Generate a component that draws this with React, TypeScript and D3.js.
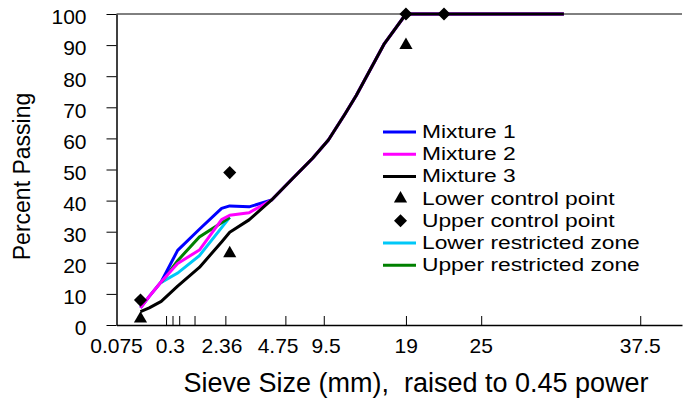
import React, { useEffect, useRef } from 'react';
import * as d3 from 'd3';

const width = 687;
const height = 400;
const margin = { top: 14, right: 5, bottom: 75, left: 116.5 };
const font = '"Liberation Sans", Arial, sans-serif';

// sieve openings (mm) used for the three mixture curves
const sieveSizes = [0.075, 0.15, 0.3, 0.6, 1.18, 2, 2.36, 3.35, 4.75, 6.3, 8, 9.5, 11.2, 12.5, 16, 19, 25, 37.5, 50];
const mixture1 = [5.5, 9.2, 13.9, 24, 30.8, 37.5, 38.3, 38, 40.2, 47.1, 53.6, 59.5, 67.7, 73.8, 90.5, 100, 100, 100, 100];
const mixture2 = [5.5, 9.2, 13.9, 19.8, 24.1, 33.9, 35.3, 36.1, 40.2, 47.1, 53.6, 59.5, 67.7, 73.8, 90.5, 100, 100, 100, 100];
const mixture3 = [4.3, 5.5, 7.6, 12.5, 18.5, 26.7, 29.8, 33.8, 40.2, 47.1, 53.6, 59.5, 67.7, 73.8, 90.5, 100, 100, 100, 100];

// restricted zone
const zoneSieves = [0.3, 0.6, 1.18, 2.36];
const lowerZone = [13.7, 16.7, 22.3, 34.6];
const upperZone = [13.7, 20.7, 28.3, 34.6];

// control points
const lowerCtrlSieves = [0.075, 2.36, 19];
const lowerCtrl = [2, 23, 90];
const upperCtrlSieves = [0.075, 2.36, 19, 25];
const upperCtrl = [8, 49, 100, 100];

// x axis (in sieve^0.45 units)
const xTickValues = [0.644, 0.728, 0.815, 1.014, 1.415, 2.195, 2.694, 3.762, 4.74, 6.807];
const xLabelText = ['0.075', '0.3', '2.36', '4.75', '9.5', '19', '25', '37.5'];
const xLabelAt = [0, 0.7, 1.372, 2.1, 2.724, 3.765, 4.74, 6.807];
const yTicks = d3.range(0, 101, 10);

const legendLabels = ['Mixture 1', 'Mixture 2', 'Mixture 3', 'Lower control point', 'Upper control point', 'Lower restricted zone', 'Upper restricted zone'];
const mixColors = ['#0000ff', '#ff00ff', '#000000'];
const zoneColors = ['#00c8f8', '#008000'];

const App = () => {
  const ref = useRef<SVGSVGElement>(null);

  useEffect(() => {
    const svg = d3.select(ref.current);
    svg.selectAll('*').remove();

    const x = d3.scaleLinear().domain([0, 7.35]).range([margin.left, width - margin.right]);
    const y = d3.scaleLinear().domain([0, 100]).range([height - margin.bottom, margin.top]);
    const px = (s: number) => x(Math.pow(s, 0.45));

    const line = (sieves: number[]) => d3.line<number>()
      .x((d, i) => px(sieves[i]))
      .y(d => y(d));

    // top border
    svg.append('line')
      .attr('x1', x(0)).attr('x2', x.range()[1])
      .attr('y1', y(100)).attr('y2', y(100))
      .attr('stroke', '#000').attr('stroke-width', 1);

    // y axis
    const yAxis = svg.append('g')
      .attr('transform', `translate(${x(0)},0)`)
      .call(d3.axisLeft(y).tickValues(yTicks).tickSize(10).tickPadding(20).tickSizeOuter(0));
    yAxis.select('.domain').attr('stroke-width', 1.5);
    yAxis.selectAll('text')
      .attr('font-family', font).attr('font-size', 21).attr('fill', '#000').attr('dy', '0.47em');

    // x axis
    const xAxis = svg.append('g')
      .attr('transform', `translate(0,${y(0)})`)
      .call(d3.axisBottom(x).tickValues(xTickValues).tickSize(-9).tickSizeOuter(0).tickFormat(() => ''));
    xAxis.select('.domain').attr('stroke-width', 1.5);

    svg.append('g').selectAll('text').data(xLabelText).enter().append('text')
      .attr('x', (d, i) => x(xLabelAt[i]))
      .attr('y', y(0) + 28)
      .attr('text-anchor', 'middle')
      .attr('font-family', font).attr('font-size', 21)
      .text(d => d);

    // axis titles
    svg.append('text')
      .attr('transform', `translate(30,${(y(0) + y(100)) / 2 + 7}) rotate(-90)`)
      .attr('text-anchor', 'middle')
      .attr('font-family', font).attr('font-size', 23)
      .text('Percent Passing');

    svg.append('text')
      .attr('x', 416).attr('y', 392)
      .attr('text-anchor', 'middle')
      .attr('font-family', font).attr('font-size', 27)
      .style('white-space', 'pre')
      .text('Sieve Size (mm),  raised to 0.45 power');

    // restricted zone
    [lowerZone, upperZone].forEach((vals, i) => {
      svg.append('path')
        .attr('d', line(zoneSieves)(vals))
        .attr('fill', 'none').attr('stroke', zoneColors[i]).attr('stroke-width', 3);
    });

    // mixtures
    [mixture1, mixture2, mixture3].forEach((vals, i) => {
      svg.append('path')
        .attr('d', line(sieveSizes)(vals))
        .attr('fill', 'none').attr('stroke', mixColors[i]).attr('stroke-width', 3)
        .attr('stroke-linejoin', 'round');
    });

    const tri = d3.symbol().type(d3.symbolTriangle).size(75);
    const dia = d3.symbol().type(d3.symbolSquare).size(85);

    svg.append('g').selectAll('path').data(lowerCtrl).enter().append('path')
      .attr('d', tri())
      .attr('transform', (d, i) => `translate(${px(lowerCtrlSieves[i])},${y(d)})`)
      .attr('fill', '#000');

    svg.append('g').selectAll('path').data(upperCtrl).enter().append('path')
      .attr('d', dia())
      .attr('transform', (d, i) => `translate(${px(upperCtrlSieves[i])},${y(d)}) rotate(45)`)
      .attr('fill', '#000');

    // legend
    const lg = svg.append('g').attr('transform', 'translate(383,132)');
    const rowH = 22.2;
    const lineColors = [mixColors[0], mixColors[1], mixColors[2], null, null, zoneColors[0], zoneColors[1]];
    legendLabels.forEach((label, i) => {
      const row = lg.append('g').attr('transform', `translate(0,${i * rowH})`);
      if (lineColors[i]) {
        row.append('line')
          .attr('x1', 0).attr('x2', 33).attr('y1', 0).attr('y2', 0)
          .attr('stroke', lineColors[i] as string).attr('stroke-width', 3);
      } else if (i === 3) {
        row.append('path').attr('d', tri()).attr('transform', 'translate(17.5,0)').attr('fill', '#000');
      } else {
        row.append('path').attr('d', dia()).attr('transform', 'translate(17.5,0) rotate(45)').attr('fill', '#000');
      }
      row.append('text')
        .attr('transform', 'translate(39,6) scale(1.2,1)')
        .attr('font-family', font).attr('font-size', 19)
        .text(label);
    });
  }, []);

  return (
    <svg ref={ref} width={width} height={height}
      style={{ position: 'absolute', left: 0, top: 0, background: '#fff' }} />
  );
};

export default App;
